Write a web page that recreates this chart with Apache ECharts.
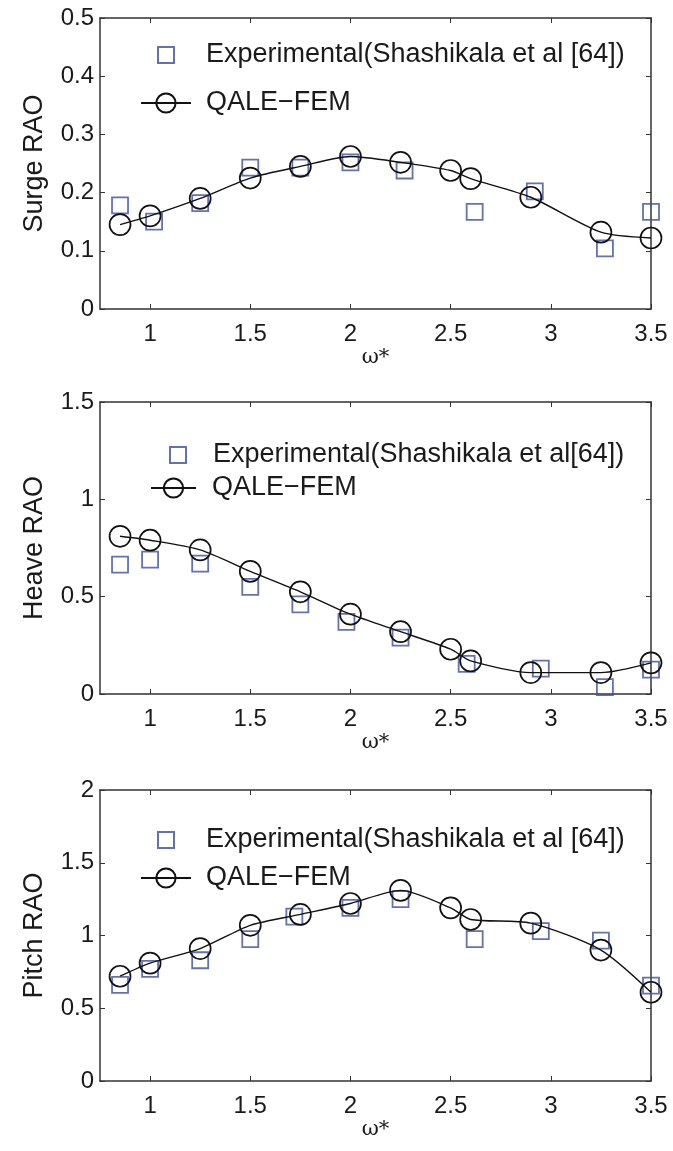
<!DOCTYPE html>
<html><head><meta charset="utf-8">
<script src="https://cdn.jsdelivr.net/npm/echarts@6/dist/echarts.min.js"></script>
<style>html,body{margin:0;padding:0;background:#fff}#c{width:673px;height:1151px}</style>
</head><body><div id="c"></div>
<script>
// ---- data ----
const xTickValues = [1, 1.5, 2, 2.5, 3, 3.5];
const legendExp = 'Experimental(Shashikala et al [64])';
const legendExp2 = 'Experimental(Shashikala et al[64])';
const legendQ = 'QALE\u2212FEM';

const surgeQaleX = [0.85, 1.0, 1.25, 1.5, 1.75, 2.0, 2.25, 2.5, 2.6, 2.9, 3.25, 3.5];
const surgeQaleY = [0.145, 0.16, 0.19, 0.225, 0.245, 0.262, 0.252, 0.238, 0.224, 0.192, 0.132, 0.122];
const surgeExpX = [0.85, 1.02, 1.25, 1.5, 1.75, 2.0, 2.27, 2.62, 2.92, 3.27, 3.5];
const surgeExpY = [0.178, 0.15, 0.182, 0.243, 0.243, 0.252, 0.238, 0.167, 0.202, 0.104, 0.167];

const heaveQaleX = [0.85, 1.0, 1.25, 1.5, 1.75, 2.0, 2.25, 2.5, 2.6, 2.9, 3.25, 3.5];
const heaveQaleY = [0.81, 0.79, 0.74, 0.63, 0.525, 0.41, 0.32, 0.23, 0.17, 0.11, 0.11, 0.16];
const heaveExpX = [0.85, 1.0, 1.25, 1.5, 1.75, 1.98, 2.25, 2.58, 2.95, 3.27, 3.5];
const heaveExpY = [0.665, 0.69, 0.67, 0.55, 0.46, 0.37, 0.29, 0.155, 0.13, 0.035, 0.125];

const pitchQaleX = [0.85, 1.0, 1.25, 1.5, 1.75, 2.0, 2.25, 2.5, 2.6, 2.9, 3.25, 3.5];
const pitchQaleY = [0.72, 0.81, 0.91, 1.07, 1.145, 1.22, 1.31, 1.19, 1.11, 1.085, 0.9, 0.61];
const pitchExpX = [0.85, 1.0, 1.25, 1.5, 1.72, 2.0, 2.25, 2.62, 2.95, 3.25, 3.5];
const pitchExpY = [0.66, 0.77, 0.83, 0.975, 1.13, 1.19, 1.25, 0.975, 1.03, 0.965, 0.655];

const panels = [
  {name: 'Surge RAO', max: 0.5, interval: 0.1, qx: surgeQaleX, qy: surgeQaleY, ex: surgeExpX, ey: surgeExpY, exp: legendExp},
  {name: 'Heave RAO', max: 1.5, interval: 0.5, qx: heaveQaleX, qy: heaveQaleY, ex: heaveExpX, ey: heaveExpY, exp: legendExp2},
  {name: 'Pitch RAO', max: 2, interval: 0.5, qx: pitchQaleX, qy: pitchQaleY, ex: pitchExpX, ey: pitchExpY, exp: legendExp}
];

// ---- layout ----
const grids = [
  {left: 100, top: 18, width: 551, height: 291},
  {left: 100, top: 402, width: 551, height: 292},
  {left: 100, top: 790, width: 551, height: 291}
];
const legendPos = [
  {sL: 152, sT: 35, sPad: 27, qL: 135, qT: 85, qW: 50, qPad: 10},
  {sL: 164, sT: 435, sPad: 22, qL: 145, qT: 470, qW: 45, qPad: 11},
  {sL: 152, sT: 820, sPad: 27, qL: 135, qT: 860, qW: 50, qPad: 10}
];
const expColor = '#3d4d9c';
const font = 'Liberation Sans, Arial, sans-serif';
const axisColor = '#333';
const textColor = '#1a1a1a';

const option = {
  animation: false,
  backgroundColor: '#fff',
  grid: grids.map(g => Object.assign({containLabel: false, show: false}, g)),
  xAxis: [], yAxis: [], series: [], legend: []
};

panels.forEach((p, i) => {
  const common = {gridIndex: i, type: 'value', min: 0.75, max: 3.5};
  option.xAxis.push(Object.assign({}, common, {
    position: 'bottom',
    name: '\u03c9*', nameLocation: 'middle', nameGap: 34,
    nameTextStyle: {fontFamily: 'DejaVu Serif, Liberation Serif, serif', fontSize: 21, color: textColor},
    axisLine: {show: true, onZero: false, lineStyle: {color: axisColor, width: 1.5}},
    axisTick: {show: true, inside: true, length: 5, customValues: xTickValues, lineStyle: {color: axisColor}},
    axisLabel: {show: true, customValues: xTickValues, fontSize: 24, color: textColor, fontFamily: font, margin: 13},
    splitLine: {show: false}
  }));
  option.xAxis.push(Object.assign({}, common, {
    position: 'top',
    axisLine: {show: true, onZero: false, lineStyle: {color: axisColor, width: 1.5}},
    axisTick: {show: true, inside: true, length: 5, customValues: xTickValues, lineStyle: {color: axisColor}},
    axisLabel: {show: false},
    splitLine: {show: false}
  }));
  const ycommon = {gridIndex: i, type: 'value', min: 0, max: p.max, interval: p.interval};
  option.yAxis.push(Object.assign({}, ycommon, {
    position: 'left',
    name: p.name, nameLocation: 'middle', nameGap: 52,
    nameTextStyle: {fontFamily: font, fontSize: 27, color: textColor},
    axisLine: {show: true, onZero: false, lineStyle: {color: axisColor, width: 1.5}},
    axisTick: {show: true, inside: true, length: 5, lineStyle: {color: axisColor}},
    axisLabel: {show: true, fontSize: 24, color: textColor, fontFamily: font, margin: 6},
    splitLine: {show: false}
  }));
  option.yAxis.push(Object.assign({}, ycommon, {
    position: 'right',
    axisLine: {show: true, onZero: false, lineStyle: {color: axisColor, width: 1.5}},
    axisTick: {show: true, inside: true, length: 5, lineStyle: {color: axisColor}},
    axisLabel: {show: false},
    splitLine: {show: false}
  }));
  option.series.push({
    name: p.exp, type: 'scatter', xAxisIndex: 2 * i, yAxisIndex: 2 * i,
    symbol: 'rect', symbolSize: 16,
    itemStyle: {color: 'rgba(0,0,0,0)', borderColor: expColor, borderWidth: 1.8},
    data: p.ex.map((x, k) => [x, p.ey[k]]), z: 2
  });
  option.series.push({
    name: legendQ, type: 'line', xAxisIndex: 2 * i, yAxisIndex: 2 * i,
    symbol: 'circle', symbolSize: 21, smooth: 0.25,
    lineStyle: {color: '#111', width: 1.4},
    itemStyle: {color: 'rgba(0,0,0,0)', borderColor: '#111', borderWidth: 1.7},
    data: p.qx.map((x, k) => [x, p.qy[k]]), z: 3
  });
  const lp = legendPos[i];
  option.legend.push({
    data: [p.exp], left: lp.sL, top: lp.sT, itemWidth: 16, itemHeight: 16,
    textStyle: {fontSize: 27, lineHeight: 30, color: textColor, fontFamily: font, padding: [0, 0, 0, lp.sPad]},
    selectedMode: false
  });
  option.legend.push({
    data: [legendQ], left: lp.qL, top: lp.qT - 2, itemWidth: lp.qW, itemHeight: 24,
    textStyle: {fontSize: 27, lineHeight: 30, color: textColor, fontFamily: font, padding: [0, 0, 0, lp.qPad]},
    selectedMode: false
  });
});

const chart = echarts.init(document.getElementById('c'), null, {renderer: 'canvas'});
chart.setOption(option);
</script></body></html>
